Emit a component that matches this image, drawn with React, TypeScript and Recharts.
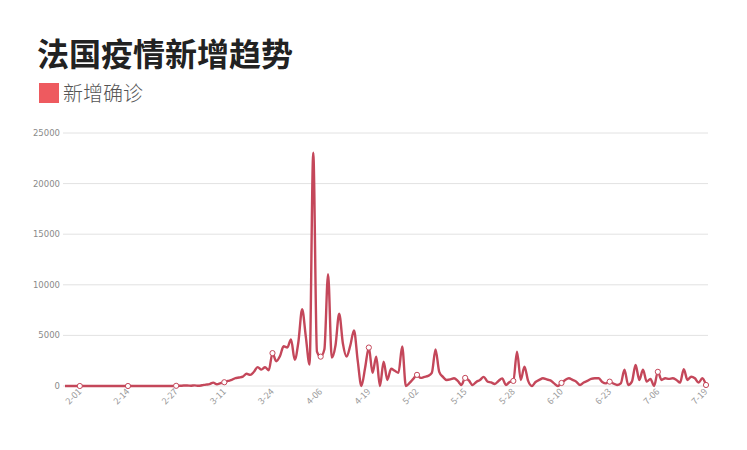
import React from 'react';
import { LineChart, Line, XAxis, YAxis, CartesianGrid } from 'recharts';

const seriesName = '新增确诊';
const lineColor = '#c4475a';
const legendColor = '#ee5a5f';

// daily new cases, by month (Jan starts on the 28th)
const jan = [0, 1, 0, 1];
const feb = [0, 0, 0, 0, 0, 0, 0, 5, 0, 0, 0, 0, 0, 0, 1, 0, 0, 0, 0, 0, 0, 0, 0, 0, 2, 4, 20, 19, 43];
const mar = [43, 30, 61, 21, 73, 138, 190, 336, 177, 286, 372, 497, 595, 785, 838, 924, 1210, 1097, 1404, 1861, 1617, 1847, 1559, 3250, 2446, 2931, 3922, 3809, 4611, 2599, 4376];
const apr = [7578, 4861, 2116, 23060, 3400, 2900, 3600, 11059, 2800, 4000, 7150, 4200, 2900, 4000, 5497, 2500, 0, 1800, 3800, 1300, 2900, 0, 2400, 600, 1700, 1500, 1300, 3900, 0, 300];
const may = [700, 1100, 800, 900, 1000, 1300, 3600, 1400, 900, 600, 650, 760, 500, 100, 800, 550, 100, 400, 600, 900, 450, 350, 200, 500, 750, 100, 400, 500, 3400, 600, 1900];
const jun = [500, 0, 400, 600, 760, 650, 550, 260, 0, 300, 600, 760, 600, 430, 100, 350, 500, 700, 760, 760, 400, 260, 430, 250, 100, 260, 1600, 100, 430, 2070];
const jul = [600, 1600, 430, 700, 0, 1400, 600, 760, 700, 760, 600, 330, 1650, 600, 920, 760, 330, 760, 100];

const months = [
  { month: 1, firstDay: 28, values: jan },
  { month: 2, firstDay: 1, values: feb },
  { month: 3, firstDay: 1, values: mar },
  { month: 4, firstDay: 1, values: apr },
  { month: 5, firstDay: 1, values: may },
  { month: 6, firstDay: 1, values: jun },
  { month: 7, firstDay: 1, values: jul },
];

const tickDates = ['2-01', '2-14', '2-27', '3-11', '3-24', '4-06', '4-19', '5-02', '5-15', '5-28', '6-10', '6-23', '7-06', '7-19'];
const yTicks = [0, 5000, 10000, 15000, 20000, 25000];

const data = months.flatMap(({ month, firstDay, values }) =>
  values.map((value, i) => ({
    date: `${month}-${String(firstDay + i).padStart(2, '0')}`,
    value,
  }))
);

const XTick = (props: any) => {
  const { x, y, payload } = props;
  return (
    <g transform={`translate(${x},${y})`}>
      <text x={0} y={0} dy={3} textAnchor="end" transform="rotate(-45)" fontSize={9} fill="#9a9a9a">
        {payload.value}
      </text>
    </g>
  );
};

const TickDot = (props: any) => {
  const { cx, cy, payload, index } = props;
  if (!tickDates.includes(payload.date)) return <g key={`dot-${index}`} />;
  return <circle key={`dot-${index}`} cx={cx} cy={cy} r={2.6} fill="#fff" stroke={lineColor} strokeWidth={1} />;
};

export default function App() {
  return (
    <div
      style={{
        position: 'absolute',
        left: 0,
        top: 0,
        width: 747,
        height: 450,
        background: '#fff',
        fontFamily: '"Noto Sans CJK SC", "Noto Sans", sans-serif',
      }}
    >
      <div style={{ position: 'absolute', left: 37, top: 34, fontSize: 32, lineHeight: '36px', fontWeight: 700, color: '#222' }}>
        法国疫情新增趋势
      </div>
      <div style={{ position: 'absolute', left: 39, top: 83, height: 20, display: 'flex', alignItems: 'center' }}>
        <span style={{ width: 20, height: 20, background: legendColor, display: 'inline-block', marginRight: 4 }} />
        <span style={{ fontSize: 20, lineHeight: '20px', color: '#555', fontWeight: 300 }}>{seriesName}</span>
      </div>
      <LineChart width={747} height={450} data={data} margin={{ top: 133, right: 39, bottom: 24, left: 8 }}>
        <CartesianGrid vertical={false} stroke="#e2e2e2" />
        <XAxis
          dataKey="date"
          ticks={tickDates}
          interval={0}
          axisLine={false}
          tickLine={false}
          tickSize={0}
          tickMargin={4}
          height={40}
          padding={{ left: 2, right: 2 }}
          tick={<XTick />}
        />
        <YAxis
          domain={[0, 25000]}
          ticks={yTicks}
          axisLine={false}
          tickLine={false}
          tickSize={0}
          tickMargin={3}
          width={55}
          tick={{ fontSize: 8.5, fill: '#8a8a8a', fontFamily: '"DejaVu Sans", sans-serif' }}
        />
        <Line
          type="monotone"
          dataKey="value"
          name={seriesName}
          stroke={lineColor}
          strokeWidth={2.4}
          dot={TickDot}
          activeDot={false}
          isAnimationActive={false}
        />
      </LineChart>
    </div>
  );
}
